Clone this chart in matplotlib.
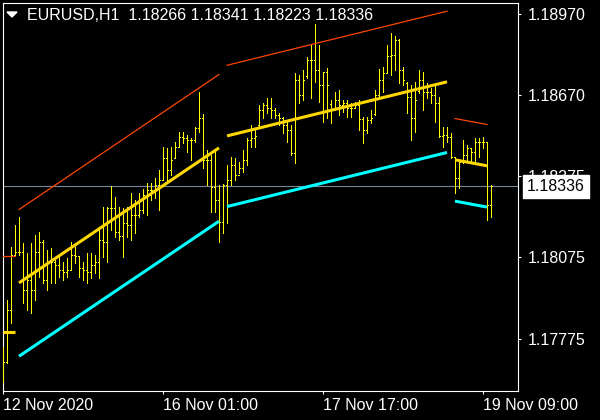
import matplotlib
matplotlib.use("Agg")
import matplotlib.pyplot as plt
import matplotlib.transforms as mtransforms
from matplotlib.patches import Polygon

# EURUSD H1 bars, oldest first
opens = [1.17660, 1.17689, 1.17880, 1.18083, 1.18094, 1.18094, 1.17954, 1.17991, 1.17954, 1.18094,
         1.18131, 1.17991, 1.18057, 1.18057, 1.18046, 1.18028, 1.18020, 1.18028, 1.18083, 1.18079,
         1.18035, 1.18028, 1.18020, 1.18046, 1.18057, 1.18138, 1.18131, 1.18256, 1.18256, 1.18168,
         1.18153, 1.18201, 1.18193, 1.18230, 1.18230, 1.18249, 1.18304, 1.18322, 1.18322, 1.18341,
         1.18359, 1.18440, 1.18396, 1.18440, 1.18480, 1.18517, 1.18514, 1.18506, 1.18506, 1.18550,
         1.18587, 1.18433, 1.18433, 1.18333, 1.18285, 1.18204, 1.18341, 1.18359, 1.18414, 1.18377,
         1.18403, 1.18433, 1.18506, 1.18514, 1.18560, 1.18617, 1.18635, 1.18624, 1.18617, 1.18598,
         1.18587, 1.18561, 1.18543, 1.18458, 1.18727, 1.18672, 1.18740, 1.18801, 1.18801, 1.18764,
         1.18709, 1.18757, 1.18640, 1.18617, 1.18653, 1.18635, 1.18642, 1.18624, 1.18624, 1.18635,
         1.18584, 1.18543, 1.18580, 1.18600, 1.18672, 1.18727, 1.18753, 1.18815, 1.18819, 1.18874,
         1.18764, 1.18715, 1.18665, 1.18587, 1.18685, 1.18727, 1.18683, 1.18683, 1.18672, 1.18642,
         1.18521, 1.18525, 1.18517, 1.18444, 1.18366, 1.18425, 1.18451, 1.18477, 1.18462, 1.18499,
         1.18499, 1.18499, 1.18266]
highs = [1.17744, 1.17917, 1.18112, 1.18193, 1.18223, 1.18127, 1.18090, 1.18127, 1.18157, 1.18168,
         1.18138, 1.18101, 1.18109, 1.18076, 1.18083, 1.18057, 1.18072, 1.18131, 1.18112, 1.18076,
         1.18057, 1.18090, 1.18090, 1.18083, 1.18186, 1.18260, 1.18260, 1.18337, 1.18296, 1.18260,
         1.18256, 1.18260, 1.18311, 1.18285, 1.18311, 1.18326, 1.18348, 1.18348, 1.18366, 1.18396,
         1.18480, 1.18477, 1.18480, 1.18499, 1.18536, 1.18536, 1.18525, 1.18514, 1.18554, 1.18683,
         1.18602, 1.18469, 1.18451, 1.18469, 1.18341, 1.18344, 1.18414, 1.18444, 1.18440, 1.18425,
         1.18469, 1.18514, 1.18561, 1.18543, 1.18635, 1.18642, 1.18661, 1.18661, 1.18624, 1.18606,
         1.18591, 1.18580, 1.18561, 1.18753, 1.18745, 1.18764, 1.18812, 1.18856, 1.18933, 1.18856,
         1.18757, 1.18771, 1.18653, 1.18683, 1.18690, 1.18653, 1.18653, 1.18642, 1.18646, 1.18653,
         1.18591, 1.18591, 1.18617, 1.18690, 1.18768, 1.18775, 1.18856, 1.18900, 1.18889, 1.18878,
         1.18775, 1.18720, 1.18709, 1.18720, 1.18764, 1.18757, 1.18716, 1.18698, 1.18716, 1.18665,
         1.18554, 1.18554, 1.18532, 1.18444, 1.18433, 1.18506, 1.18488, 1.18477, 1.18514, 1.18514,
         1.18517, 1.18495, 1.18341]
lows = [1.17615, 1.17685, 1.17833, 1.18083, 1.18083, 1.17906, 1.17880, 1.17870, 1.17917, 1.18002,
        1.17980, 1.17954, 1.17980, 1.17980, 1.18002, 1.17991, 1.18002, 1.18028, 1.18054, 1.18002,
        1.17991, 1.17980, 1.17998, 1.18017, 1.17998, 1.18076, 1.18057, 1.18175, 1.18149, 1.18138,
        1.18076, 1.18149, 1.18138, 1.18164, 1.18223, 1.18238, 1.18230, 1.18285, 1.18293, 1.18249,
        1.18359, 1.18352, 1.18377, 1.18440, 1.18480, 1.18495, 1.18462, 1.18433, 1.18499, 1.18536,
        1.18403, 1.18341, 1.18241, 1.18241, 1.18131, 1.18164, 1.18201, 1.18341, 1.18359, 1.18385,
        1.18388, 1.18414, 1.18480, 1.18480, 1.18554, 1.18587, 1.18606, 1.18587, 1.18587, 1.18561,
        1.18532, 1.18499, 1.18451, 1.18422, 1.18642, 1.18653, 1.18734, 1.18661, 1.18720, 1.18646,
        1.18572, 1.18587, 1.18569, 1.18624, 1.18598, 1.18609, 1.18591, 1.18591, 1.18624, 1.18543,
        1.18495, 1.18532, 1.18569, 1.18598, 1.18665, 1.18683, 1.18753, 1.18745, 1.18764, 1.18716,
        1.18709, 1.18606, 1.18506, 1.18536, 1.18679, 1.18617, 1.18661, 1.18642, 1.18572, 1.18517,
        1.18480, 1.18499, 1.18440, 1.18311, 1.18330, 1.18422, 1.18433, 1.18422, 1.18422, 1.18444,
        1.18477, 1.18212, 1.18223]
closes = [1.17689, 1.17880, 1.18083, 1.18094, 1.18094, 1.17954, 1.17991, 1.17954, 1.18094, 1.18131,
          1.17991, 1.18057, 1.18057, 1.18046, 1.18028, 1.18020, 1.18028, 1.18083, 1.18079, 1.18035,
          1.18028, 1.18020, 1.18046, 1.18057, 1.18138, 1.18131, 1.18256, 1.18256, 1.18168, 1.18153,
          1.18201, 1.18193, 1.18230, 1.18230, 1.18249, 1.18304, 1.18322, 1.18322, 1.18341, 1.18359,
          1.18440, 1.18396, 1.18433, 1.18480, 1.18517, 1.18514, 1.18506, 1.18506, 1.18550, 1.18587,
          1.18433, 1.18433, 1.18333, 1.18285, 1.18204, 1.18341, 1.18359, 1.18414, 1.18377, 1.18403,
          1.18433, 1.18506, 1.18514, 1.18521, 1.18617, 1.18635, 1.18624, 1.18617, 1.18598, 1.18587,
          1.18561, 1.18543, 1.18458, 1.18727, 1.18672, 1.18727, 1.18801, 1.18801, 1.18764, 1.18709,
          1.18757, 1.18709, 1.18617, 1.18653, 1.18635, 1.18642, 1.18624, 1.18624, 1.18635, 1.18584,
          1.18543, 1.18580, 1.18587, 1.18672, 1.18727, 1.18753, 1.18815, 1.18819, 1.18874, 1.18764,
          1.18727, 1.18665, 1.18587, 1.18653, 1.18727, 1.18683, 1.18683, 1.18672, 1.18642, 1.18521,
          1.18525, 1.18517, 1.18444, 1.18366, 1.18425, 1.18451, 1.18477, 1.18462, 1.18499, 1.18499,
          1.18499, 1.18267, 1.18336]

# regression channel pieces (bar index from/to, middle line from/to, half width)
chan_from = [0, 4, 56, 113]
chan_to = [3, 54, 111, 121]
chan_mid_from = [1.17800, 1.17980, 1.18521, 1.18433]
chan_mid_to = [1.17800, 1.18477, 1.18720, 1.18411]
chan_width = [0.00279, 0.00270, 0.00260, 0.00152]

price_ticks = [1.17775, 1.18075, 1.18375, 1.18670, 1.18970]
time_ticks = [0, 40, 80, 120]
time_labels = ["12 Nov 2020", "16 Nov 01:00", "17 Nov 17:00", "19 Nov 09:00"]
title = "EURUSD,H1  1.18266 1.18341 1.18223 1.18336"

plt.rcParams['font.family'] = ['Liberation Sans', 'DejaVu Sans']

fig = plt.figure(figsize=(6, 4.2), dpi=100, facecolor='black')
ax = fig.add_axes([2.5 / 600, 29.5 / 420, 515.5 / 600, 388 / 420])
ax.set_facecolor('black')
ax.set_xlim(-0.125, 128.75)
ax.set_ylim(1.17584, 1.19012)

# crisp 1px bars like the terminal draws them
idx = list(range(len(closes)))
bar_color = '#ffff00'
ax.vlines(idx, lows, highs, color=bar_color, lw=0.5, antialiased=False, zorder=3)
ax.hlines(opens, [i - 0.3 for i in idx], idx, color=bar_color, lw=0.5, antialiased=False, zorder=3)
ax.hlines(closes, idx, [i + 0.3 for i in idx], color=bar_color, lw=0.5, antialiased=False, zorder=3)

for s, e, m0, m1, w in zip(chan_from, chan_to, chan_mid_from, chan_mid_to, chan_width):
    ax.plot([s, e], [m0 + w, m1 + w], color='#ff4500', lw=0.9, zorder=4)
    ax.plot([s, e], [m0, m1], color='#ffd700', lw=2.2, zorder=4, solid_capstyle='butt')
    ax.plot([s, e], [m0 - w, m1 - w], color='#00ffff', lw=2.2, zorder=4, solid_capstyle='butt')

last = closes[-1]
ax.axhline(last, color='#778899', lw=0.8, zorder=1)

for sp in ax.spines.values():
    sp.set_color('white')
    sp.set_linewidth(0.8)

ax.yaxis.tick_right()
ax.set_yticks(price_ticks)
ax.set_yticklabels([f"{p:.5f}" for p in price_ticks])
ax.set_xticks(time_ticks)
ax.set_xticklabels(time_labels, ha='left')
ax.tick_params(colors='white', labelcolor='white', labelsize=11.5, length=2.5, width=0.8)
ax.tick_params(axis='y', pad=4.5)
ax.tick_params(axis='x', pad=3)

# current price marker on the price scale (covers part of the 1.18375 label, as in MT4)
trans = mtransforms.blended_transform_factory(ax.transAxes, ax.transData)
ax.annotate(f"{last:.5f}", xy=(1, last), xycoords=trans, xytext=(6.5, 0),
            textcoords='offset points', ha='left', va='center', color='black',
            fontsize=11.5, zorder=10, annotation_clip=False,
            bbox=dict(boxstyle='square,pad=0.25', facecolor='white', edgecolor='white'))

fig.text(27 / 600, 1 - 15.5 / 420, title, color='white', fontsize=11.5, va='center', ha='left')
fig.patches.append(Polygon([[7 / 600, 1 - 12 / 420], [17 / 600, 1 - 12 / 420], [12 / 600, 1 - 17 / 420]],
                           closed=True, transform=fig.transFigure, facecolor='white', edgecolor='white'))

fig.savefig("out.png", dpi=100, facecolor='black')
